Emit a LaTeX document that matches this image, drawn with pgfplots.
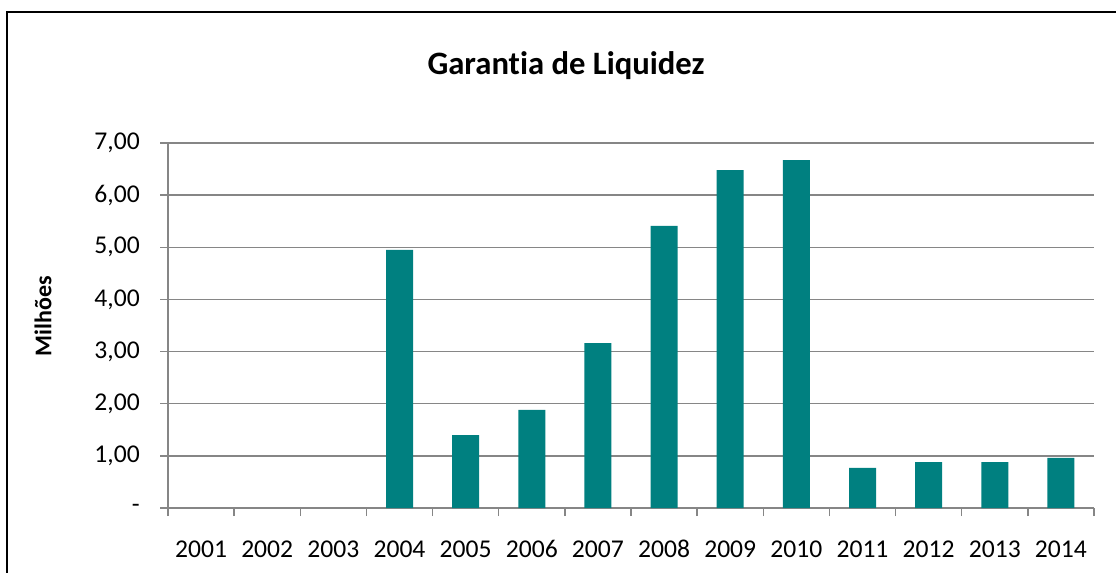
\documentclass[border=0pt]{standalone}
\usepackage{pgfplots}
\pgfplotsset{compat=1.18}
\usepackage{fontspec}
\setmainfont{Carlito}[Ligatures={NoCommon,NoRare}]
\definecolor{barteal}{RGB}{0,128,128}
\definecolor{gridgray}{RGB}{134,134,134}
\begin{document}
\begin{tikzpicture}
\begin{scope}[x=0.75pt,y=-0.75pt]
\path[use as bounding box] (0,0) rectangle (1116,572);
\draw[line width=1.5pt] (7,576) -- (7,12) -- (1120,12);
\node[font=\bfseries\fontsize{24.5}{29}\selectfont] at (566,66) {Garant\kern0pt ia de Liquidez};
\node[font=\bfseries\fontsize{18}{21}\selectfont, rotate=90] at (43,316) {Milhões};
\end{scope}
\begin{axis}[
  at={(126pt,-381pt)}, anchor=south west,
  scale only axis, width=694.5pt, height=273.75pt,
  xmin=-0.5, xmax=13.5, ymin=0, ymax=7,
  ybar, bar width=20.25pt,
  axis x line*=bottom, axis y line*=left,
  axis line style={gridgray, line width=1pt},
  ymajorgrids, grid style={gridgray, line width=1pt},
  ytick={0,1,...,7},
  yticklabels={-,{1,00},{2,00},{3,00},{4,00},{5,00},{6,00},{7,00}},
  xtick={0,1,...,13},
  xticklabels={2001,2002,2003,2004,2005,2006,2007,2008,2009,2010,2011,2012,2013,2014},
  minor xtick={-0.5,0.5,...,13.5},
  major x tick style={draw=none},
  tick align=outside, major tick length=6pt, minor tick length=6pt,
  tick style={gridgray, line width=1pt},
  ticklabel style={font=\fontsize{19.2}{23}\selectfont},
  xticklabel style={anchor=base, inner sep=0pt, yshift=-31pt},
  yticklabel style={anchor=east, inner sep=0pt, xshift=-15pt},
]
\addplot[fill=barteal, draw=none] coordinates {
(3,4.95) (4,1.40) (5,1.88) (6,3.16) (7,5.41) (8,6.48) (9,6.67) (10,0.77) (11,0.88) (12,0.88) (13,0.96)
};
\end{axis}
\end{tikzpicture}
\end{document}
